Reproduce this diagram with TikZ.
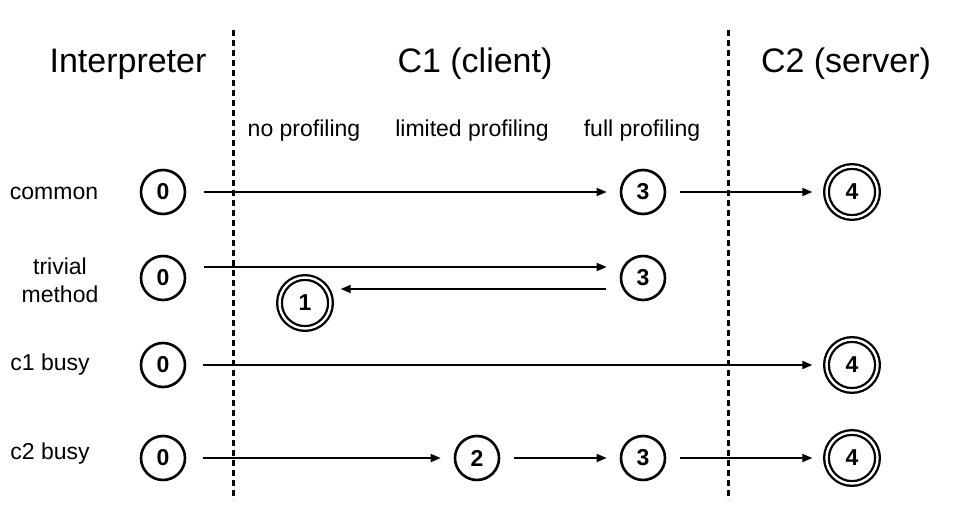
\documentclass[tikz,border=0pt]{standalone}
\usepackage{fontspec}
\setmainfont{Liberation Sans}
\usetikzlibrary{arrows.meta}

\begin{document}
\begin{tikzpicture}[x=1pt, y=-1pt,
  stnode/.style={circle, draw, line width=2.6pt, minimum size=44pt, inner sep=0pt,
                 font=\fontsize{23}{25}\selectfont\bfseries},
  accnode/.style={stnode, double, double distance=2.4pt, line width=2.3pt, minimum size=51pt},
  tier/.style={font=\fontsize{34}{38}\selectfont},
  level/.style={font=\fontsize{23}{26}\selectfont},
  case/.style={font=\fontsize{23}{28}\selectfont, align=center},
  arr/.style={-{Triangle[length=10pt,width=8pt]}, line width=1.7pt,
              shorten <=14pt, shorten >=13pt},
  sep/.style={line width=3pt, dash pattern=on 6pt off 4pt}]
\useasboundingbox (0,0) rectangle (972,516);

% tiers and separators
\node[tier] (interp) at (128,64) {Interpreter};
\node[tier] (client) at (475,64) {C1 (client)};
\node[tier] (server) at (846,64) {C2 (server)};
\draw[sep] (233,30) -- (233,500);
\draw[sep] (728,30) -- (728,500);

\node[level] (noprof) at (304,131) {no profiling};
\node[level] (limprof) at (472,131) {limited profiling};
\node[level] (fullprof) at (642,131) {full profiling};

% common
\node[case] (common) at (54,193) {common};
\node[stnode] (co0) at (163,192) {0};
\node[stnode] (co3) at (643,192) {3};
\node[accnode] (co4) at (852,192) {4};
\draw[arr, shorten <=18pt] (co0) -- (co3);
\draw[arr] (co3) -- (co4);

% trivial method
\node[case] (trivial) at (60,280) {trivial\\method};
\node[stnode] (tr0) at (163,278) {0};
\node[stnode] (tr3) at (643,278) {3};
\node[accnode] (tr1) at (305,303) {1};
\draw[arr, shorten <=18pt] ([yshift=11pt]tr0.east) -- ([yshift=11pt]tr3.west);
\draw[arr, shorten >=9pt] ([yshift=-11pt]tr3.west) -- ([yshift=-11pt]tr3.west -| tr1.east);

% c1 busy
\node[case] (cbusy) at (50,365) {c1 busy};
\node[stnode] (cb0) at (163,365) {0};
\node[accnode] (cb4) at (852,365) {4};
\draw[arr, shorten <=17pt] (cb0) -- (cb4);

% c2 busy
\node[case] (sbusy) at (50,454) {c2 busy};
\node[stnode] (sb0) at (163,458) {0};
\node[stnode] (sb2) at (477,458) {2};
\node[stnode] (sb3) at (643,458) {3};
\node[accnode] (sb4) at (852,458) {4};
\draw[arr, shorten <=17pt] (sb0) -- (sb2);
\draw[arr] (sb2) -- (sb3);
\draw[arr] (sb3) -- (sb4);
\end{tikzpicture}
\end{document}
